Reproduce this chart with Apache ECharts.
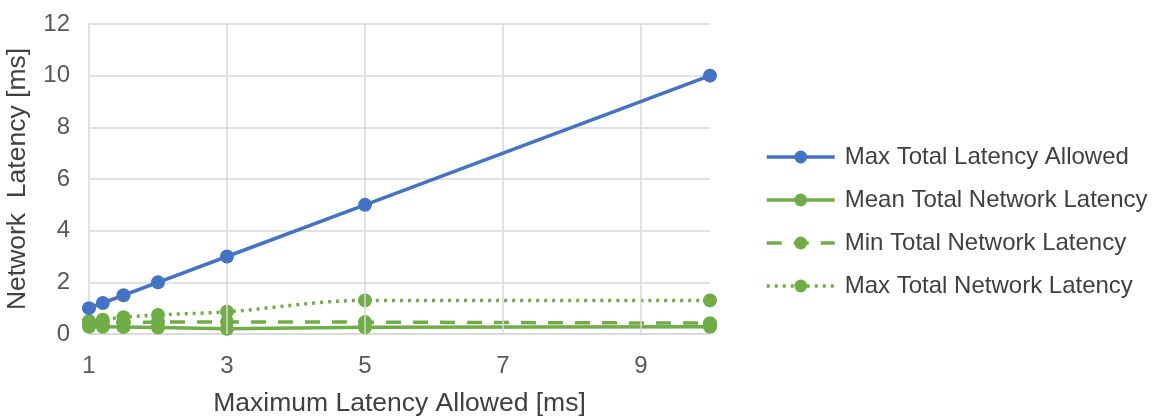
<!DOCTYPE html>
<html>
<head>
<meta charset="utf-8">
<script src="https://cdn.jsdelivr.net/npm/echarts@6/dist/echarts.min.js"></script>
<style>
  html, body { margin: 0; padding: 0; background: #fff; }
  #chart { width: 1154px; height: 417px; }
</style>
</head>
<body>
<div id="chart"></div>
<script>
// Maximum latency allowed per run [ms]
const maxAllowed = [1, 1.2, 1.5, 2, 3, 5, 10];
// Measured network latency [ms]
const totalAllowed = [1, 1.2, 1.5, 2, 3, 5, 10];
const meanLatency = [0.28, 0.28, 0.27, 0.25, 0.2, 0.26, 0.28];
const minLatency = [0.45, 0.45, 0.45, 0.46, 0.47, 0.46, 0.42];
const maxLatency = [0.5, 0.55, 0.65, 0.74, 0.86, 1.3, 1.3];
// Vertical gridlines at the labelled x ticks (the right edge carries none)
const xGridTicks = [3, 5, 7, 9];

const seriesNames = [
  'Max Total Latency Allowed',
  'Mean Total Network Latency',
  'Min Total Network Latency',
  'Max Total Network Latency'
];

const BLUE = '#4472C4';
const GREEN = '#70AD47';
const GRID = '#d9d9d9';
const FONT = 'Liberation Sans, Arial, sans-serif';

const pairs = (ys) => maxAllowed.map((x, i) => [x, ys[i]]);

const chart = echarts.init(document.getElementById('chart'), null, { renderer: 'canvas' });

chart.setOption({
  animation: false,
  backgroundColor: '#ffffff',
  textStyle: { fontFamily: FONT },
  grid: { left: 89, right: 444, top: 24, bottom: 83, containLabel: false, outerBoundsMode: 'none' },
  legend: {
    orient: 'vertical',
    left: 765,
    top: 145,
    padding: 0,
    itemWidth: 68,
    itemHeight: 16,
    itemGap: 19,
    lineStyle: { width: 3.5 },
    textStyle: { fontFamily: FONT, fontSize: 24, color: '#404040', padding: [0, 0, 0, 5] },
    data: seriesNames
  },
  xAxis: {
    type: 'value',
    min: 1,
    max: 10,
    interval: 2,
    name: 'Maximum Latency Allowed [ms]',
    nameLocation: 'middle',
    nameGap: 56,
    nameTextStyle: { fontFamily: FONT, fontSize: 26.5, color: '#404040' },
    axisLine: { show: true, lineStyle: { color: GRID, width: 1.5 } },
    axisTick: { show: false },
    axisLabel: { fontFamily: FONT, fontSize: 24, color: '#595959', margin: 20, showMaxLabel: false },
    splitLine: { show: false }
  },
  yAxis: {
    type: 'value',
    min: 0,
    max: 12,
    interval: 2,
    name: 'Network  Latency [ms]',
    nameLocation: 'middle',
    nameGap: 58,
    nameTextStyle: { fontFamily: FONT, fontSize: 26.5, color: '#404040' },
    axisLine: { show: true, lineStyle: { color: GRID, width: 1.5 } },
    axisTick: { show: false },
    axisLabel: { fontFamily: FONT, fontSize: 24, color: '#595959', margin: 19 },
    splitLine: { show: true, lineStyle: { color: GRID, width: 1.5 } }
  },
  series: [
    {
      name: 'gridlines',
      type: 'line',
      data: [],
      z: 1,
      silent: true,
      legendHoverLink: false,
      markLine: {
        silent: true,
        symbol: 'none',
        label: { show: false },
        lineStyle: { color: GRID, width: 1.5, type: 'solid' },
        data: xGridTicks.map(v => ({ xAxis: v }))
      }
    },
    {
      name: seriesNames[0],
      type: 'line',
      data: pairs(totalAllowed),
      symbol: 'circle',
      symbolSize: 14,
      color: BLUE,
      lineStyle: { color: BLUE, width: 3.5 },
      itemStyle: { color: BLUE },
      z: 5
    },
    {
      name: seriesNames[1],
      type: 'line',
      data: pairs(meanLatency),
      symbol: 'circle',
      symbolSize: 14,
      color: GREEN,
      lineStyle: { color: GREEN, width: 3.5 },
      itemStyle: { color: GREEN },
      z: 4
    },
    {
      name: seriesNames[2],
      type: 'line',
      data: pairs(minLatency),
      symbol: 'circle',
      symbolSize: 14,
      color: GREEN,
      lineStyle: { color: GREEN, width: 3.5, type: [15, 12] },
      itemStyle: { color: GREEN },
      z: 4
    },
    {
      name: seriesNames[3],
      type: 'line',
      data: pairs(maxLatency),
      smooth: 0.35,
      symbol: 'circle',
      symbolSize: 14,
      color: GREEN,
      lineStyle: { color: GREEN, width: 3.5, type: [3, 5] },
      itemStyle: { color: GREEN },
      z: 4
    }
  ]
});
</script>
</body>
</html>
